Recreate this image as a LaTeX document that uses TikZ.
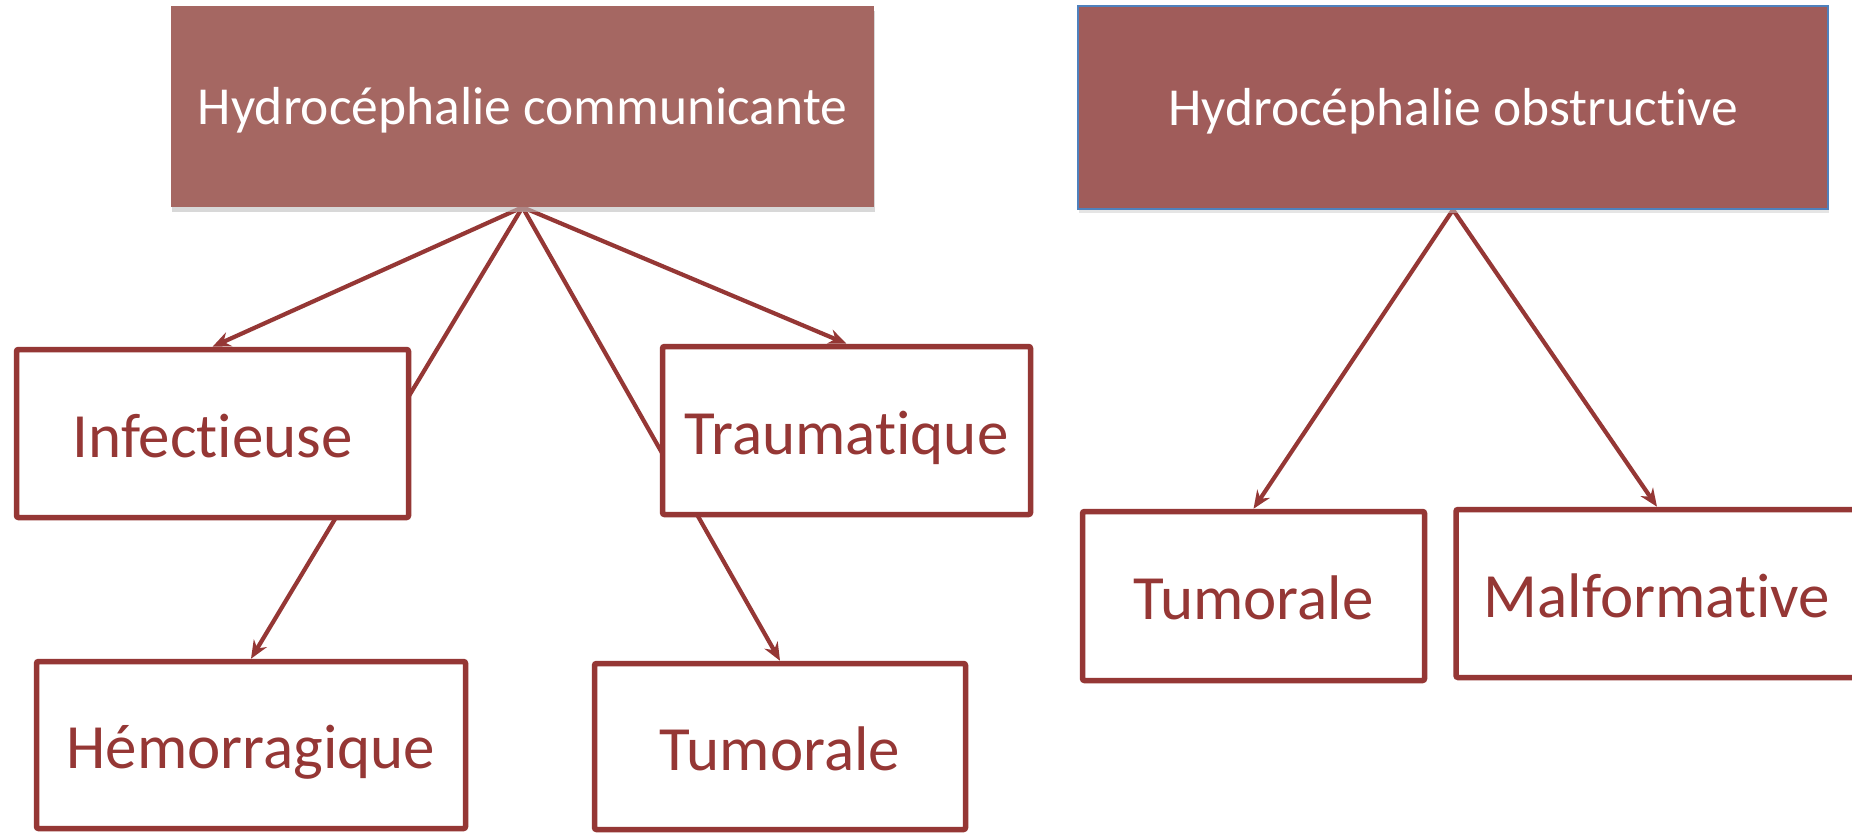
\documentclass[tikz,border=0pt]{standalone}
\usepackage{fontspec}
\setmainfont{Carlito}[Ligatures=NoCommon]
\usetikzlibrary{arrows.meta,shadows}
\definecolor{dred}{HTML}{953735}
\definecolor{headA}{HTML}{A56762}
\definecolor{headB}{HTML}{A05C5A}
\definecolor{blueedge}{HTML}{4F81BD}
\pgfdeclarelayer{background}
\pgfsetlayers{background,main}
\tikzset{
  headbox/.style={rectangle, text=white, inner sep=0pt,
    text height=40pt, text depth=3pt,
    font=\fontsize{53.5}{60}\selectfont},
  childbox/.style={rectangle, draw=dred, line width=5.5pt, fill=white,
    rounded corners=2pt, text=dred, inner sep=0pt,
    text height=47pt, text depth=0pt,
    font=\fontsize{63}{70}\selectfont},
  link/.style={draw=dred, line width=4.2pt,
    -{Stealth[length=18pt,width=15pt]}}
}
\begin{document}
\begin{tikzpicture}[x=1pt,y=-1pt]
\useasboundingbox (0,0) rectangle (1852,834);
% header boxes
\node[headbox, fill=headA, minimum width=703pt, minimum height=201pt,
  drop shadow={shadow xshift=1pt, shadow yshift=-5pt, fill=black!25, opacity=0.6}]
  (A) at (522.5,106.5) {Hydrocéphalie communicante};
\node[headbox, fill=headB, draw=blueedge, line width=1.5pt,
  minimum width=750pt, minimum height=203pt,
  drop shadow={shadow xshift=1pt, shadow yshift=-4pt, fill=black!20, opacity=0.5}]
  (B) at (1453,107.5) {Hydrocéphalie obstructive};
% child boxes
\node[childbox, minimum width=392pt, minimum height=168pt] (inf) at (212.5,433.5) {Infectieuse};
\node[childbox, minimum width=368pt, minimum height=168pt] (trau) at (846.5,430.5) {Traumatique};
\node[childbox, minimum width=429pt, minimum height=167pt] (hem) at (251,745) {Hémorragique};
\node[childbox, minimum width=371pt, minimum height=166pt] (tumL) at (780,746.5) {Tumorale};
\node[childbox, minimum width=342pt, minimum height=169pt] (tumR) at (1253.5,596) {Tumorale};
\node[childbox, minimum width=402pt, minimum height=168pt] (malf) at (1657,593.5) {Malformative};
% connectors
\begin{pgfonlayer}{background}
\fill[white] (0,0) rectangle (1852,834);
\draw[link] (A.south) -- (inf.north);
\draw[link] (A.south) -- (trau.north);
\draw[link] (A.south) -- (hem.north);
\draw[link] (A.south) -- (tumL.north);
\draw[link] (B.south) -- (tumR.north);
\draw[link] (B.south) -- (malf.north);
\end{pgfonlayer}
\end{tikzpicture}
\end{document}
